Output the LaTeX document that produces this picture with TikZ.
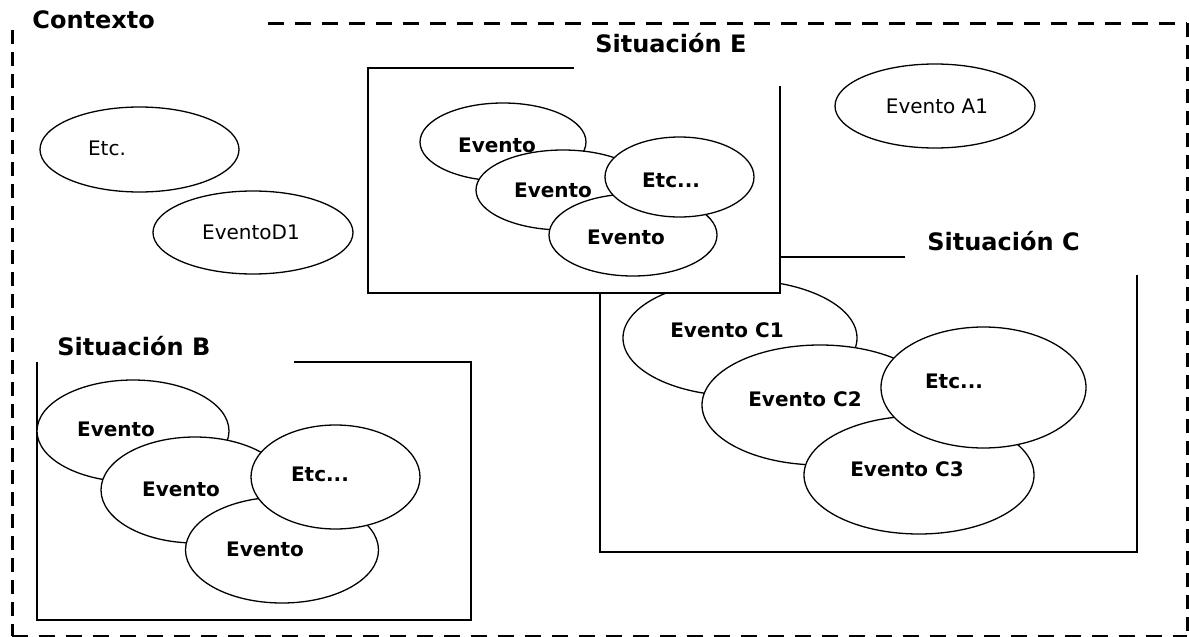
\documentclass[tikz,border=0pt]{standalone}
\usepackage{fontspec}
\setmainfont{DejaVu Sans}
\usetikzlibrary{shapes.geometric}
\tikzset{
  ev/.style={ellipse, draw=black, fill=white, line width=0.65pt, inner sep=0pt, outer sep=0pt},
  evtxt/.style={anchor=base, inner sep=0pt, font=\fontsize{10}{12}\selectfont},
  evbold/.style={anchor=base, inner sep=0pt, font=\fontsize{10}{12}\selectfont\bfseries},
  titletxt/.style={anchor=base west, inner sep=0pt, font=\fontsize{12}{14}\selectfont\bfseries},
  boxline/.style={line width=1pt, draw=black},
  framedh/.style={line width=1.5pt, dash pattern=on 8pt off 5.5pt},
  framedv/.style={line width=1.5pt, dash pattern=on 7pt off 4pt},
}
\newcommand\evnode[5]{\node[ev, minimum width=#4pt, minimum height=#5pt] (#1) at (#2,#3) {};}
\begin{document}
\begin{tikzpicture}[x=0.5pt,y=-0.5pt]
\useasboundingbox (0,0) rectangle (1189,637);
% outer frame
\coordinate (ftl) at (268,23);
\coordinate (ftr) at (1187,23);
\coordinate (fbr) at (1187,636);
\coordinate (fbl) at (12,636);
\coordinate (flt) at (12,30);
\draw[framedh] (ftl) -- (ftr);
\draw[framedv] (ftr) -- (fbr);
\draw[framedh] (fbl) -- (fbr);
\draw[framedv] (flt) -- (fbl);
\node[titletxt] (contexto) at (32,28) {Contexto};
% free events
\evnode{d2}{139.5}{149.5}{99.5}{42.5}
\evnode{d1}{253}{232.5}{100}{41.5}
\evnode{a1}{935}{106}{100}{42}
\node[evtxt] (td2) at (107,155) {Etc.};
\node[evtxt] (td1) at (251,239) {EventoD1};
\node[evtxt] (ta1) at (937,113) {Evento A1};
% Situacion C
\draw[boxline] (905,257) -- (600,257) -- (600,552) -- (1137,552) -- (1137,275);
\evnode{c1}{740}{338}{117}{58}
\evnode{c2}{820}{405}{118}{60}
\evnode{c3}{919}{475}{115}{59}
\evnode{c4}{983.5}{387.5}{102.5}{60.5}
\node[evbold] (tc1) at (727,337) {Evento C1};
\node[evbold] (tc2) at (805,406) {Evento C2};
\node[evbold] (tc4) at (954,388) {Etc...};
\node[evbold] (tc3) at (907,476) {Evento C3};
\node[titletxt] (sitc) at (927,250) {Situación C};
% Situacion E
\fill[white] (368,68) rectangle (780,293);
\draw[boxline] (574,68) -- (368,68) -- (368,293) -- (780,293) -- (780,86);
\evnode{e1}{503}{142}{83}{39}
\evnode{e2}{563}{190}{87}{40}
\evnode{e3}{633}{235}{84}{41}
\evnode{e4}{679.5}{177}{74.5}{40}
\node[evbold] (te1) at (497,152) {Evento};
\node[evbold] (te2) at (553,197) {Evento};
\node[evbold] (te4) at (671,187) {Etc...};
\node[evbold] (te3) at (626,244) {Evento};
\node[titletxt] (site) at (595,52) {Situación E};
% Situacion B
\draw[boxline] (294,362) -- (471,362) -- (471,620) -- (37,620) -- (37,362);
\evnode{b1}{133}{431}{96}{51}
\evnode{b2}{195}{490}{94}{53}
\evnode{b3}{282}{550}{96.5}{53}
\evnode{b4}{335.5}{477}{84.5}{52}
\node[evbold] (tb1) at (116,436) {Evento};
\node[evbold] (tb2) at (181,496) {Evento};
\node[evbold] (tb4) at (320,481) {Etc...};
\node[evbold] (tb3) at (265,556) {Evento};
\node[titletxt] (sitb) at (57,355) {Situación B};
\end{tikzpicture}
\end{document}
